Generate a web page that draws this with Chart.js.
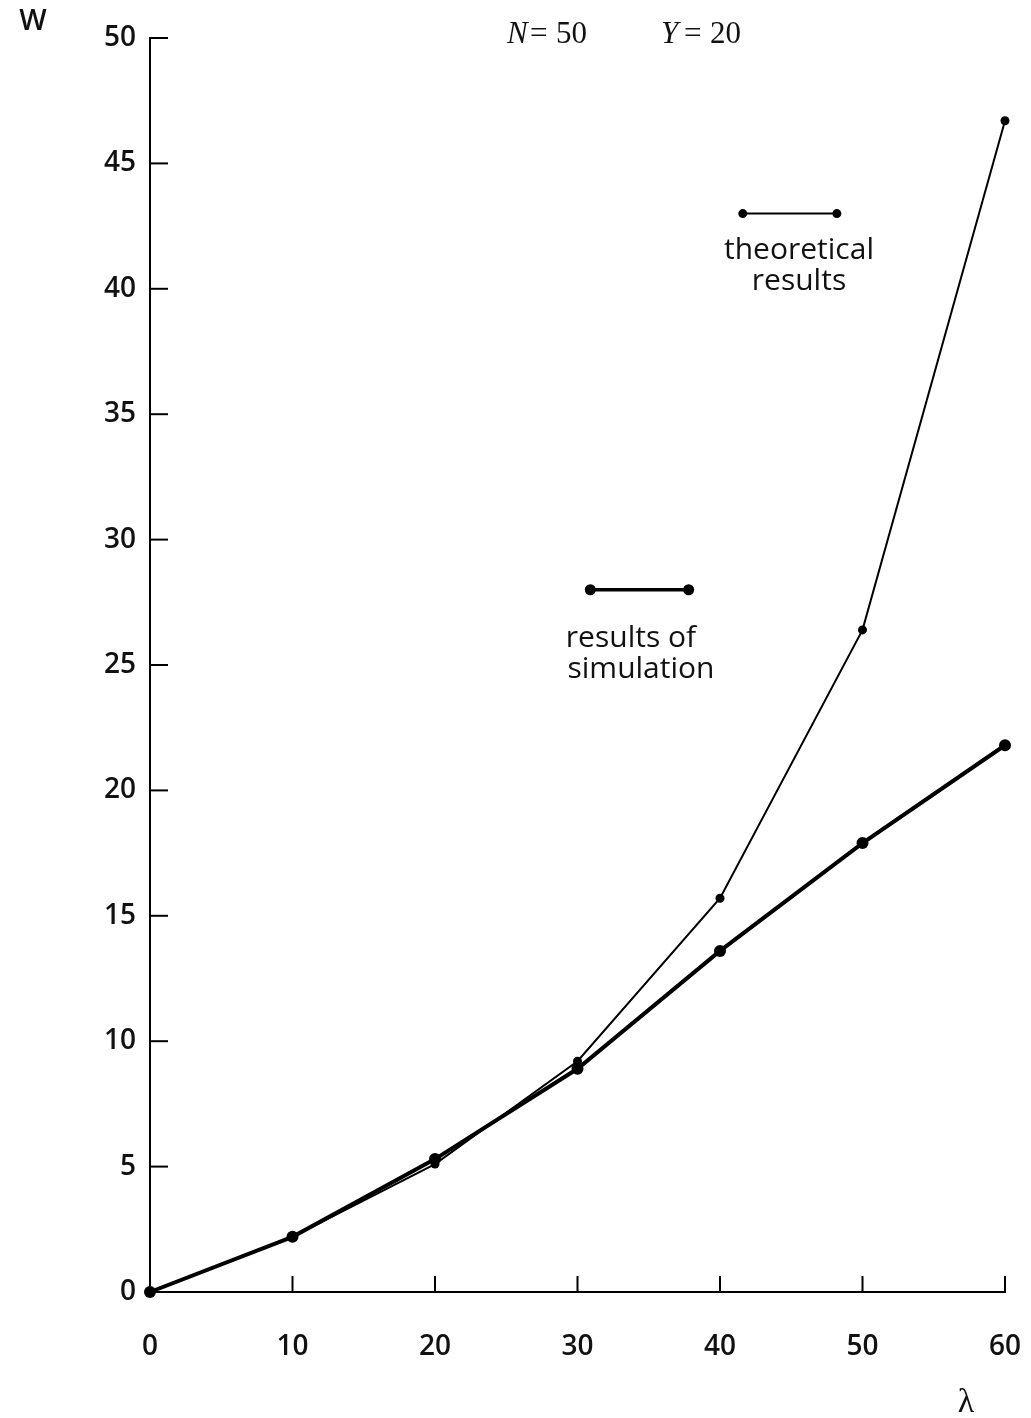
<!DOCTYPE html>
<html>
<head>
<meta charset="utf-8">
<script src="https://cdn.jsdelivr.net/npm/chart.js@4"></script>
<style>
html,body{margin:0;padding:0;background:#fff;}
#wrap{width:1031px;height:1418px;position:relative;}
</style>
</head>
<body>
<div id="wrap"><canvas id="c" width="1031" height="1418"></canvas></div>
<script>
const lambdaValues = [0, 10, 20, 30, 40, 50, 60];
const theoretical = [0, 2.2, 5.1, 9.2, 15.7, 26.4, 46.7];
const simulation = [0, 2.2, 5.3, 8.9, 13.6, 17.9, 21.8];
const xTicks = [0, 10, 20, 30, 40, 50, 60];
const yTicks = [0, 5, 10, 15, 20, 25, 30, 35, 40, 45, 50];

const FONT = '"Open Sans", "Noto Sans", sans-serif';

const decor = {
  id: 'decor',
  afterDraw(chart) {
    const ctx = chart.ctx;
    const xs = chart.scales.x, ys = chart.scales.y;
    const a = chart.chartArea;
    ctx.save();
    ctx.strokeStyle = '#000';
    ctx.lineWidth = 2;
    // inward ticks
    yTicks.forEach(v => {
      const y = ys.getPixelForValue(v);
      ctx.beginPath(); ctx.moveTo(a.left, y); ctx.lineTo(a.left + 18, y); ctx.stroke();
    });
    xTicks.forEach(v => {
      if (v === 0) return;
      const x = xs.getPixelForValue(v);
      ctx.beginPath(); ctx.moveTo(x, a.bottom); ctx.lineTo(x, a.bottom - 16); ctx.stroke();
    });
    // legend samples
    function sample(x1, x2, yv, lw, r) {
      const p1 = xs.getPixelForValue(x1), p2 = xs.getPixelForValue(x2), py = ys.getPixelForValue(yv);
      ctx.lineWidth = lw;
      ctx.beginPath(); ctx.moveTo(p1, py); ctx.lineTo(p2, py); ctx.stroke();
      ctx.fillStyle = '#000';
      [p1, p2].forEach(p => { ctx.beginPath(); ctx.arc(p, py, r, 0, Math.PI * 2); ctx.fill(); });
    }
    sample(41.6, 48.2, 43, 2, 4.5);
    sample(30.9, 37.8, 28, 3.5, 5.5);
    ctx.fillStyle = '#111';
    ctx.font = '500 30px ' + FONT;
    ctx.textAlign = 'center';
    ctx.textBaseline = 'middle';
    ctx.fillText('theoretical', 799, 250);
    ctx.fillText('results', 799, 281);
    ctx.fillText('results of', 631, 638);
    ctx.fillText('simulation', 641, 669);
    // W and lambda
    ctx.font = '600 29px ' + FONT;
    ctx.fillText('W', 33, 22);
    ctx.font = '34px "Liberation Serif", "DejaVu Serif", serif';
    ctx.fillText('λ', 966, 1403);
    // N=50  Y=20
    ctx.textAlign = 'left';
    const serif = '"Liberation Serif", serif';
    ctx.font = 'italic 31px ' + serif;
    ctx.fillText('N', 507, 35);
    ctx.font = '31px ' + serif;
    ctx.fillText('=', 530, 35);
    ctx.fillText('50', 556, 35);
    ctx.font = 'italic 31px ' + serif;
    ctx.fillText('Y', 661, 35);
    ctx.font = '31px ' + serif;
    ctx.fillText('=', 684, 35);
    ctx.fillText('20', 710, 35);
    ctx.restore();
  }
};

new Chart(document.getElementById('c'), {
  type: 'line',
  data: {
    datasets: [
      {
        label: 'results of simulation',
        data: lambdaValues.map((x, i) => ({x, y: simulation[i]})),
        borderColor: '#000', backgroundColor: '#000',
        borderWidth: 4, pointRadius: 6, pointHoverRadius: 6,
        pointBorderWidth: 0, tension: 0, order: 1
      },
      {
        label: 'theoretical results',
        data: lambdaValues.map((x, i) => ({x, y: theoretical[i]})),
        borderColor: '#000', backgroundColor: '#000',
        borderWidth: 2, pointRadius: 4.5, pointHoverRadius: 4.5,
        pointBorderWidth: 0, tension: 0, order: 2
      }
    ]
  },
  options: {
    responsive: false,
    animation: false,
    devicePixelRatio: 1,
    clip: false,
    layout: { padding: { left: 0, top: 38, right: 26, bottom: 0 } },
    plugins: { legend: { display: false }, tooltip: { enabled: false } },
    scales: {
      x: {
        type: 'linear', min: 0, max: 60,
        afterBuildTicks: s => { s.ticks = xTicks.map(v => ({value: v})); },
        afterFit: s => { s.height = 126; s.paddingRight = 0; s.paddingLeft = 0; },
        grid: { drawOnChartArea: false, drawTicks: false },
        border: { display: true, color: '#000', width: 2 },
        ticks: { color: '#111', padding: 38, maxRotation: 0, font: { family: FONT, size: 28, weight: '600' } }
      },
      y: {
        type: 'linear', min: 0, max: 50,
        afterBuildTicks: s => { s.ticks = yTicks.map(v => ({value: v})); },
        afterFit: s => { s.width = 150; s.paddingTop = 0; s.paddingBottom = 0; },
        grid: { drawOnChartArea: false, drawTicks: false },
        border: { display: true, color: '#000', width: 2 },
        ticks: { color: '#111', padding: 14, font: { family: FONT, size: 28, weight: '600' } }
      }
    }
  },
  plugins: [decor]
});
</script>
</body>
</html>
